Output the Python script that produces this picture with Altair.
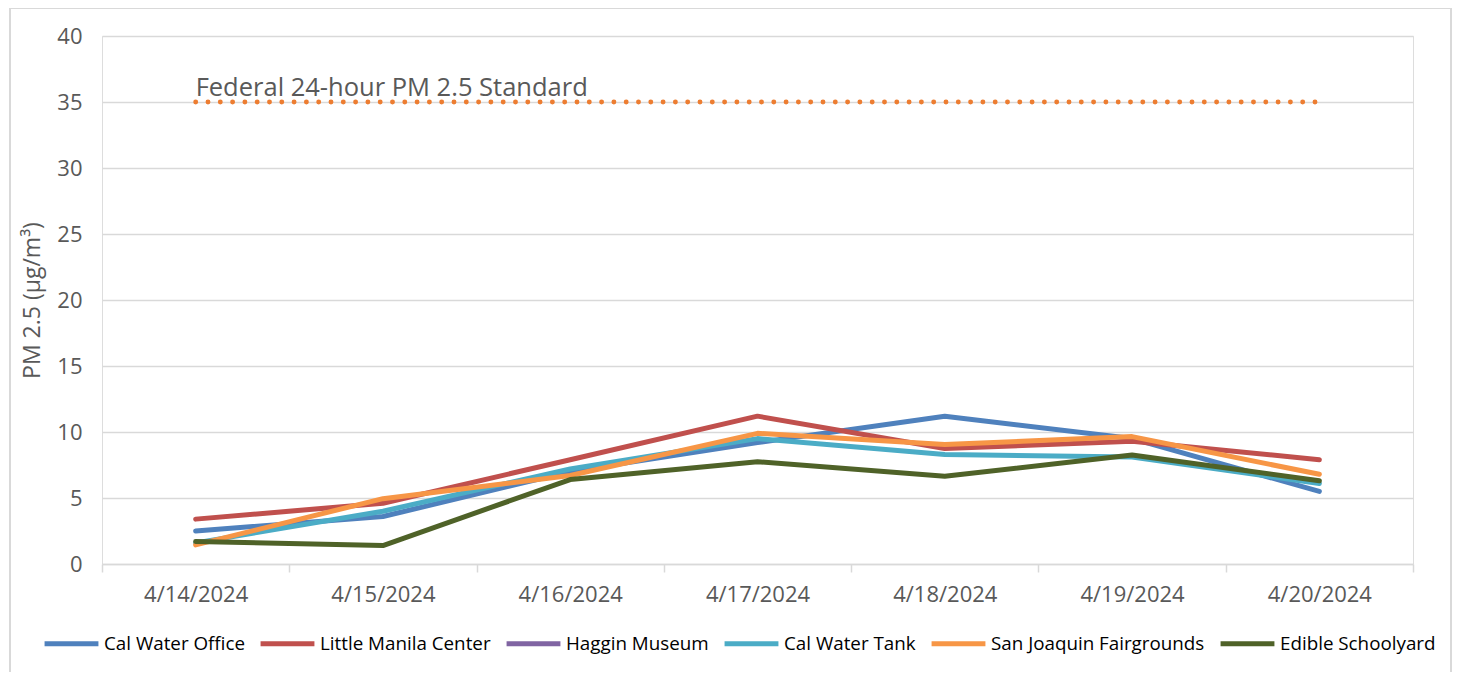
import altair as alt
import pandas as pd

dates = ["4/14/2024", "4/15/2024", "4/16/2024", "4/17/2024", "4/18/2024", "4/19/2024", "4/20/2024"]
series_names = ["Cal Water Office", "Little Manila Center", "Haggin Museum",
                "Cal Water Tank", "San Joaquin Fairgrounds", "Edible Schoolyard"]
cal_water_office = [2.5, 3.6, 7.0, 9.2, 11.2, 9.5, 5.5]
little_manila = [3.4, 4.6, 7.9, 11.2, 8.75, 9.3, 7.9]
haggin_museum = [None, None, None, None, None, None, None]
cal_water_tank = [1.6, 4.0, 7.2, 9.5, 8.3, 8.1, 6.1]
sj_fairgrounds = [1.45, 4.95, 6.7, 9.9, 9.05, 9.65, 6.8]
edible_schoolyard = [1.7, 1.4, 6.4, 7.75, 6.65, 8.25, 6.3]
federal_standard = [35, 35, 35, 35, 35, 35, 35]
standard_label = "Federal 24-hour PM 2.5 Standard"
colors = ["#4F81BD", "#C0504D", "#8064A2", "#4BACC6", "#F79646", "#4F6228"]

all_series = [cal_water_office, little_manila, haggin_museum, cal_water_tank, sj_fairgrounds, edible_schoolyard]
rows = []
for name, vals in zip(series_names, all_series):
    for d, v in zip(dates, vals):
        rows.append({"date": d, "series": name, "value": v})
df = pd.DataFrame(rows)
fed = pd.DataFrame({"date": dates, "value": federal_standard})
lab = pd.DataFrame({"date": [dates[0]], "value": [federal_standard[0]], "text": [standard_label]})

FONT = "Open Sans"
GRAY = "#595959"
GRID = "#D9D9D9"

xenc = alt.X("date:O", sort=dates,
             scale=alt.Scale(type="band", paddingInner=0, paddingOuter=0),
             axis=alt.Axis(title=None, labelAngle=0, labelAlign="center", labelBaseline="top",
                           labelFontSize=22, labelColor=GRAY,
                           labelFont=FONT, labelPadding=12, ticks=True, tickBand="extent",
                           tickSize=8, tickColor=GRID, tickWidth=1.5,
                           domainColor=GRID, domainWidth=1.5, grid=False))
yscale = alt.Scale(domain=[0, 40], nice=False)

frame = alt.Chart(fed).mark_rect(fill=None, stroke=GRID, strokeWidth=1.5).encode(
    x=alt.value(-92), x2=alt.value(1349), y=alt.value(-28), y2=alt.value(700))

lines = alt.Chart(df).mark_line(strokeWidth=5, strokeCap="round", strokeJoin="round").encode(
    x=xenc,
    y=alt.Y("value:Q", scale=yscale,
            axis=alt.Axis(title="PM 2.5 (µg/m³)", values=[0, 5, 10, 15, 20, 25, 30, 35, 40],
                          labelFontSize=22, labelColor=GRAY, labelFont=FONT, labelPadding=20,
                          titleFontSize=23, titleColor=GRAY, titleFont=FONT, titleFontWeight="normal",
                          titlePadding=12, domain=False, ticks=False,
                          grid=True, gridColor=GRID, gridWidth=1.5)),
    color=alt.Color("series:N", scale=alt.Scale(domain=series_names, range=colors),
                    legend=alt.Legend(title=None, orient="none", direction="horizontal",
                                      columns=6, columnPadding=5, legendX=-60, legendY=578,
                                      symbolType="stroke", symbolSize=2900, symbolStrokeWidth=5,
                                      labelFontSize=18.8, labelFont=FONT, labelColor="#000000",
                                      labelOffset=3, labelLimit=0)),
    detail="series:N",
)

fedline = alt.Chart(fed).mark_line(color="#ED7D31", strokeWidth=4.8, strokeCap="round",
                                   strokeDash=[0.1, 12.2]).encode(
    x=alt.X("date:O", sort=dates), y=alt.Y("value:Q", scale=yscale))

text = alt.Chart(lab).mark_text(align="left", baseline="alphabetic", dx=0, dy=-6,
                                fontSize=25.5, font=FONT, color=GRAY).encode(
    x=alt.X("date:O", sort=dates), y=alt.Y("value:Q", scale=yscale), text="text:N")

chart = alt.layer(frame, fedline, lines, text).properties(
    width=1311, height=528,
    autosize=alt.AutoSizeParams(type="none"),
    padding={"left": 94, "top": 28, "right": 40, "bottom": 108},
).configure_view(stroke=None).configure(background="white")

chart.save("out.html", embed_options={"renderer": "svg", "actions": False})
